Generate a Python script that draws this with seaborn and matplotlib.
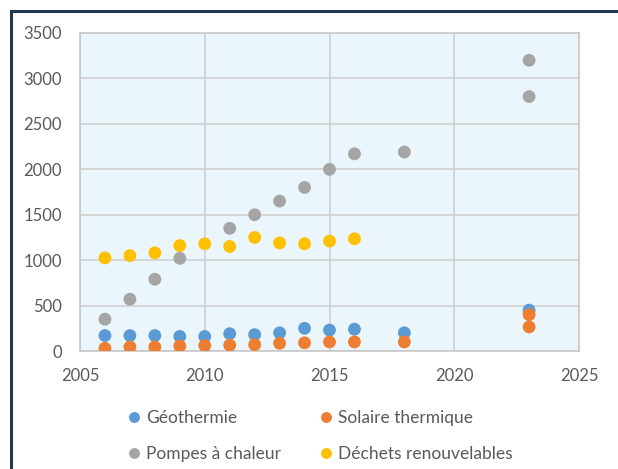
import pandas as pd
import seaborn as sns
import matplotlib.pyplot as plt
from matplotlib.patches import Rectangle

# data
geo_years = [2006, 2007, 2008, 2009, 2010, 2011, 2012, 2013, 2014, 2015, 2016, 2018, 2023]
geo_vals = [170, 170, 170, 160, 160, 190, 180, 200, 250, 230, 240, 200, 450]

sol_years = [2006, 2007, 2008, 2009, 2010, 2011, 2012, 2013, 2014, 2015, 2016, 2018, 2023, 2023]
sol_vals = [30, 45, 45, 55, 60, 65, 70, 85, 90, 100, 100, 100, 400, 265]

pac_years = [2006, 2007, 2008, 2009, 2011, 2012, 2013, 2014, 2015, 2016, 2018, 2023, 2023]
pac_vals = [350, 570, 790, 1020, 1350, 1500, 1650, 1800, 2000, 2170, 2190, 3200, 2800]

dech_years = [2006, 2007, 2008, 2009, 2010, 2011, 2012, 2013, 2014, 2015, 2016]
dech_vals = [1025, 1050, 1080, 1160, 1180, 1150, 1250, 1190, 1180, 1210, 1235]

series = ['Géothermie', 'Solaire thermique', 'Pompes à chaleur', 'Déchets renouvelables']
colors = ['#5B9BD5', '#ED7D31', '#A5A5A5', '#FFC000']

frames = []
for name, yrs, vals in zip(series,
                           [geo_years, sol_years, pac_years, dech_years],
                           [geo_vals, sol_vals, pac_vals, dech_vals]):
    frames.append(pd.DataFrame({'annee': yrs, 'valeur': vals, 'serie': name}))
df = pd.concat(frames, ignore_index=True)

sns.set_style('white')
plt.rcParams['font.family'] = ['Lato', 'DejaVu Sans']

fig = plt.figure(figsize=(6.18, 4.69), dpi=100)
ax = fig.add_axes([80 / 618, 1 - 351 / 469, 499 / 618, 318 / 469])
ax.set_facecolor('#EAF5FC')

sns.scatterplot(data=df, x='annee', y='valeur', hue='serie', hue_order=series,
                palette=colors, s=85, edgecolor='none', ax=ax, zorder=3)

ax.set_xlim(2005, 2025)
ax.set_ylim(0, 3500)
ax.set_xticks(range(2005, 2026, 5))
ax.set_yticks(range(0, 3501, 500))
ax.grid(True, color='#D0D0D0', linewidth=1.2)
ax.set_axisbelow(True)
for sp in ax.spines.values():
    sp.set_color('#C8C8C8')
    sp.set_linewidth(1.2)
ax.tick_params(labelsize=12, colors='#595959', length=0)
ax.tick_params(axis='x', pad=12)
ax.tick_params(axis='y', pad=13)
ax.set_xlabel('')
ax.set_ylabel('')

# legend filled row by row like the original
h, l = ax.get_legend_handles_labels()
order = [0, 2, 1, 3]
ax.legend([h[i] for i in order], [l[i] for i in order],
          loc='center left', bbox_to_anchor=(114 / 618, 1 - 436 / 469),
          bbox_transform=fig.transFigure, ncol=2, frameon=False,
          fontsize=12.5, labelcolor='#595959', handletextpad=0.0,
          columnspacing=1.9, labelspacing=1.2, markerscale=0.85,
          borderpad=0, handlelength=1.35)

# dark frame around the chart
fig.patches.append(Rectangle((11 / 618, -0.05), 1.0, 1 - 11 / 469 + 0.05,
                             transform=fig.transFigure, fill=False,
                             edgecolor='#1F3A52', linewidth=2.2))

fig.savefig('out.png', dpi=100)
